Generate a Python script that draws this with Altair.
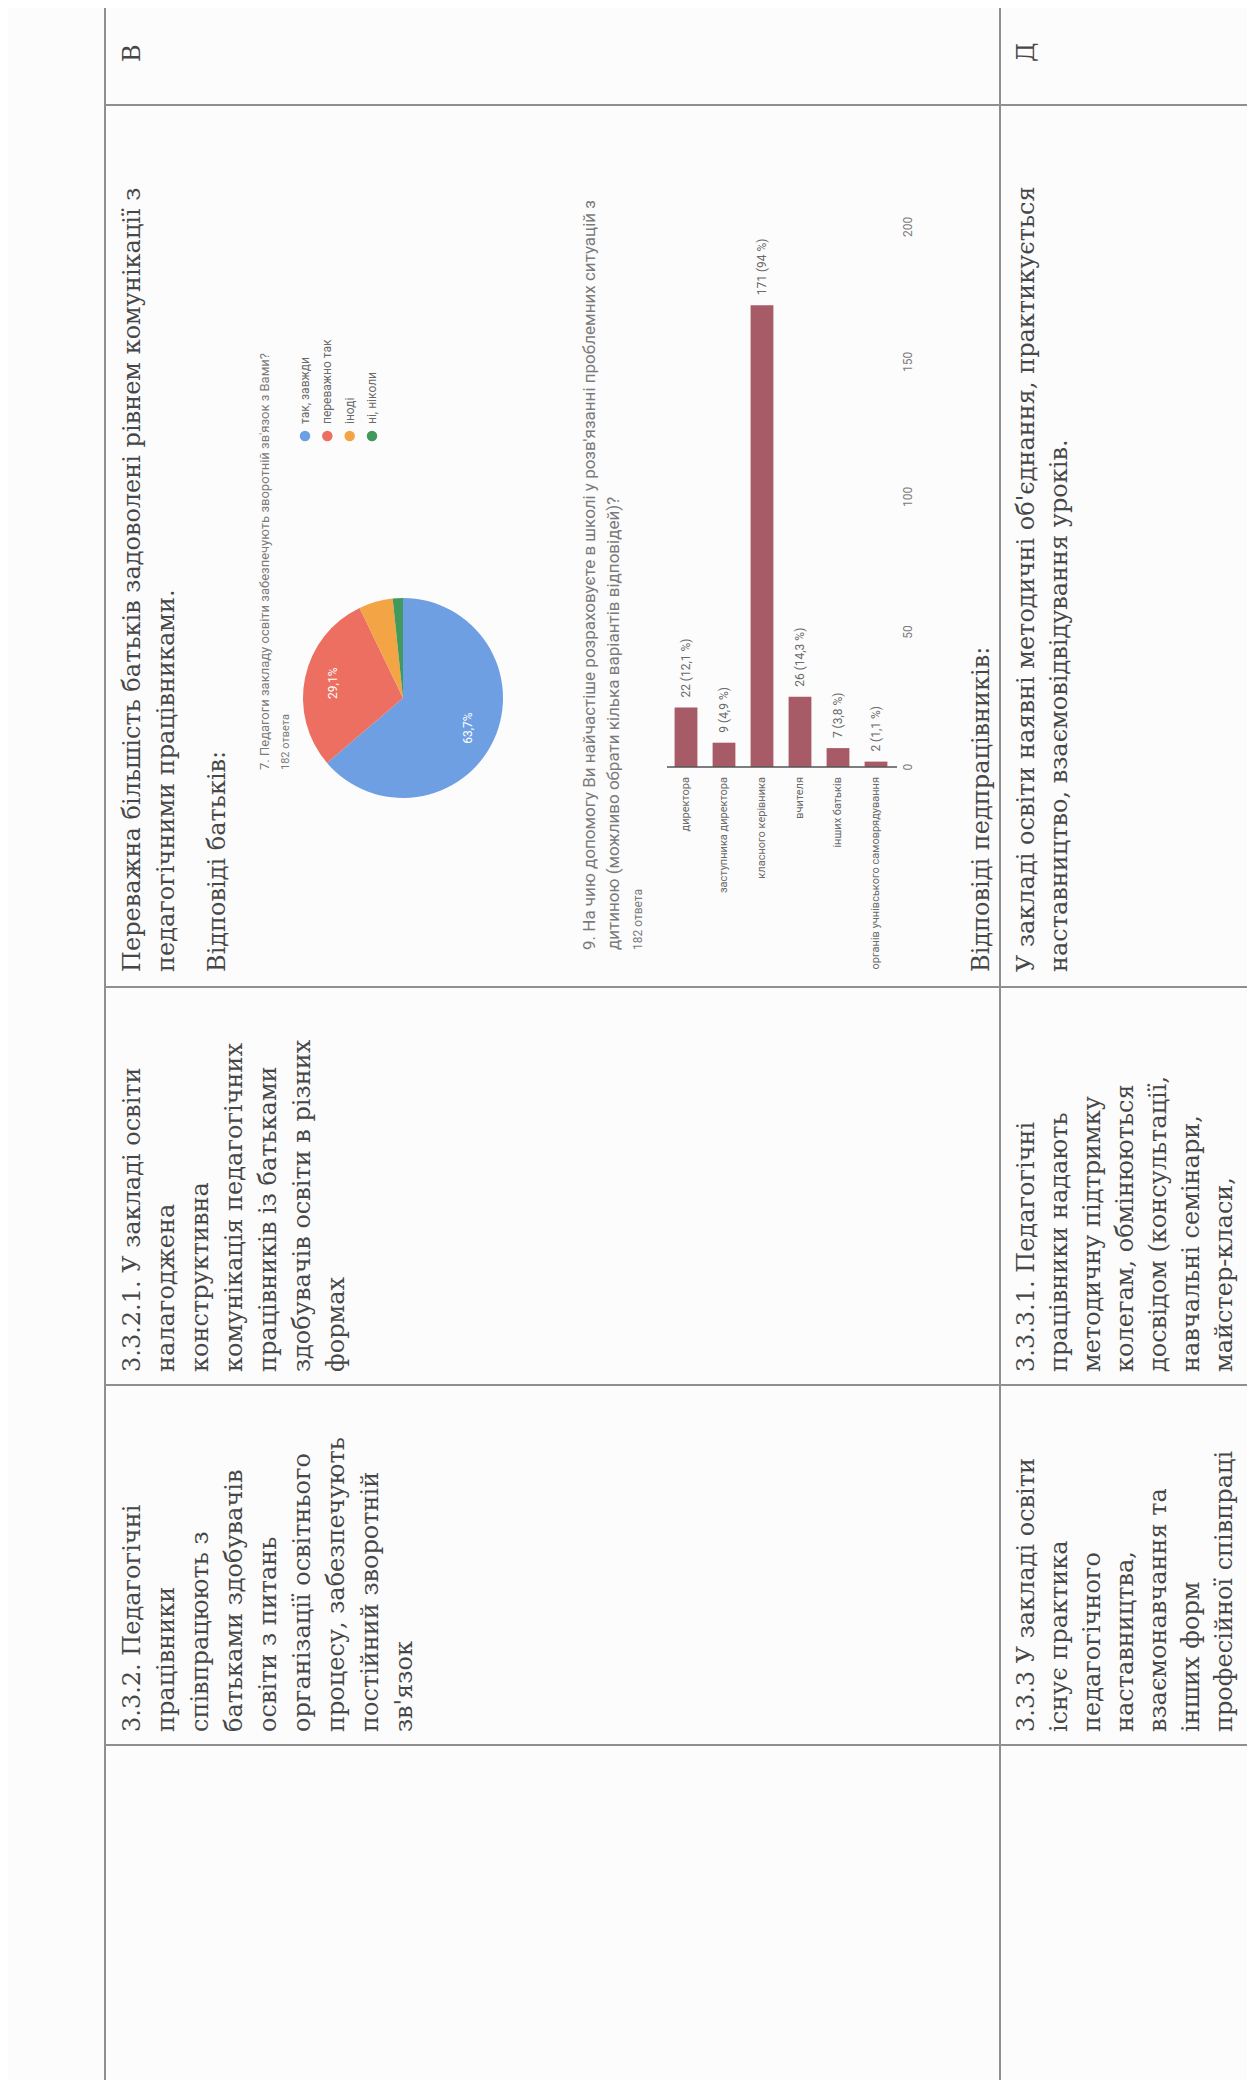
import altair as alt
import pandas as pd

# ---------------- values ----------------
bar_categories = ["директора", "заступника директора", "класного керівника",
                  "вчителя", "інших батьків", "органів учнівського самоврядування"]
bar_values = [22, 9, 171, 26, 7, 2]
bar_value_labels = ["22 (12,1 %)", "9 (4,9 %)", "171 (94 %)", "26 (14,3 %)",
                    "7 (3,8 %)", "2 (1,1 %)"]
bar_ticks = [0, 50, 100, 150, 200]
bar_title = ["9. На чию допомогу Ви найчастіше розраховуєте в школі у розв'язанні проблемних ситуацій з",
             "дитиною (можливо обрати кілька варіантів відповідей)?",
             "182 ответа"]

pie_categories = ["так, завжди", "переважно так", "іноді", "ні, ніколи"]
pie_values = [116, 53, 10, 3]
pie_value_labels = ["63,7%", "29,1%", "", ""]
pie_title = ["7. Педагоги закладу освіти забезпечують зворотній зв'язок з Вами?",
             "182 ответа"]

row1_level = ["В"]
row1_criterion = ["3.3.2. Педагогічні", "працівники", "співпрацюють з", "батьками здобувачів",
                  "освіти з питань", "організації освітнього", "процесу, забезпечують",
                  "постійний зворотній", "зв'язок"]
row1_indicator = ["3.3.2.1. У закладі освіти", "налагоджена", "конструктивна",
                  "комунікація педагогічних", "працівників із батьками",
                  "здобувачів освіти в різних", "формах"]
row1_description = ["Переважна більшість батьків задоволені рівнем комунікації з",
                    "педагогічними працівниками."]
row1_parents = ["Відповіді батьків:"]
row1_staff = ["Відповіді педпрацівників:"]

row2_level = ["Д"]
row2_criterion = ["3.3.3 У закладі освіти", "існує практика", "педагогічного",
                  "наставництва,", "взаємонавчання та", "інших форм", "професійної співпраці"]
row2_indicator = ["3.3.3.1. Педагогічні", "працівники надають", "методичну підтримку",
                  "колегам, обмінюються", "досвідом (консультації,", "навчальні семінари,",
                  "майстер-класи,"]
row2_description = ["У закладі освіти наявні методичні об'єднання, практикується",
                    "наставництво, взаємовідвідування уроків."]

# ---------------- colours / styles ----------------
pie_colors = ["#6f9fe3", "#ec6f61", "#f3a444", "#41995c"]
BAR_COLOR = "#a65b67"
DOC_COLOR = "#474747"
CHART_TXT = "#6a6a6a"
LINE_COLOR = "#8f8f8f"
SERIF = "DejaVu Serif"
SANS = "Roboto"

# ---------------- page layout (full-image pixel frame) ----------------
M = 8
W, H = 1255 - 2 * M, 2088 - 2 * M
PX = alt.Scale(domain=[M, 1255 - M], range=[0, W])
PY = alt.Scale(domain=[M, 2088 - M], range=[0, H])

ROW1_X0, ROW1_STEP = 133, 34
ROW2_X0, ROW2_STEP = 1027, 33
DESC_START, IND_START, CRIT_START = 972, 1372, 1732
LEVEL_START = 62

def block(lines, x0, step, ystart):
    return [{"x": x0 + i * step, "y": ystart, "t": s} for i, s in enumerate(lines)]

doc_rows = []
doc_rows += block(row1_level, ROW1_X0, ROW1_STEP, LEVEL_START)
doc_rows += block(row2_level, ROW2_X0, ROW2_STEP, LEVEL_START)
doc_rows += block(row1_criterion, ROW1_X0, ROW1_STEP, CRIT_START)
doc_rows += block(row1_indicator, ROW1_X0, ROW1_STEP, IND_START)
doc_rows += block(row1_description, ROW1_X0, ROW1_STEP, DESC_START)
doc_rows += block(row1_parents, 218, 0, DESC_START)
doc_rows += block(row1_staff, 982, 0, DESC_START)
doc_rows += block(row2_criterion, ROW2_X0, ROW2_STEP, CRIT_START)
doc_rows += block(row2_indicator, ROW2_X0, ROW2_STEP, IND_START)
doc_rows += block(row2_description, ROW2_X0, ROW2_STEP, DESC_START)
doc_df = pd.DataFrame(doc_rows)

doc_text = alt.Chart(doc_df).mark_text(
    angle=270, align="left", baseline="middle", font=SERIF, fontSize=24, color=DOC_COLOR
).encode(
    x=alt.X("x:Q", scale=PX, axis=None),
    y=alt.Y("y:Q", scale=PY, axis=None),
    text="t:N",
)

# table rules
rules = [
    (105, 0, 105, 2088),       # table top border
    (1000, 0, 1000, 2088),     # row separator
    (105, 105, 1255, 105),     # level | description
    (105, 987, 1255, 987),     # description | indicator
    (105, 1385, 1255, 1385),   # indicator | criterion
    (105, 1745, 1255, 1745),   # criterion | blank
]
rule_df = pd.DataFrame(rules, columns=["x", "y", "x2", "y2"])
table = alt.Chart(rule_df).mark_rule(color=LINE_COLOR, strokeWidth=2).encode(
    x=alt.X("x:Q", scale=PX, axis=None), x2="x2:Q",
    y=alt.Y("y:Q", scale=PY, axis=None), y2="y2:Q",
)

# chart titles (small sans text)
small_rows = []
small_rows += [{"x": 590 + i * 24, "y": 950, "t": s, "s": 17 if i < 2 else 12}
               for i, s in enumerate(bar_title)]
small_rows += [{"x": 265 + i * 21, "y": 770, "t": s, "s": 13 if i < 1 else 11}
               for i, s in enumerate(pie_title)]
small_df = pd.DataFrame(small_rows)
small_text = alt.Chart(small_df).mark_text(
    angle=270, align="left", baseline="middle", font=SANS, color="#7a7a7a"
).encode(
    x=alt.X("x:Q", scale=PX, axis=None),
    y=alt.Y("y:Q", scale=PY, axis=None),
    text="t:N",
    size=alt.Size("s:Q", scale=None, legend=None),
)

# ---------------- pie ----------------
pie_df = pd.DataFrame({"cat": pie_categories, "val": pie_values,
                       "lab": pie_value_labels, "ord": list(range(len(pie_categories)))})
PIE_CX, PIE_CY = 403 - M, 698 - M
pie_color = alt.Color("cat:N", scale=alt.Scale(domain=pie_categories, range=pie_colors), legend=None)
pie = alt.Chart(pie_df).mark_arc(radius=100).encode(
    theta=alt.Theta("val:Q", stack=True),
    color=pie_color,
    order=alt.Order("ord:Q"),
    x=alt.value(PIE_CX), y=alt.value(PIE_CY),
)
pie_lab = alt.Chart(pie_df).mark_text(
    radius=72, angle=270, color="white", fontSize=12, font=SANS
).encode(
    theta=alt.Theta("val:Q", stack=True),
    order=alt.Order("ord:Q"),
    text="lab:N",
    x=alt.value(PIE_CX), y=alt.value(PIE_CY),
)
LEG = alt.Scale(type="point", domain=pie_categories, range=[305 - M, 372 - M], padding=0)
leg_dots = alt.Chart(pie_df).mark_circle(size=110, opacity=1).encode(
    x=alt.X("cat:N", scale=LEG, axis=None),
    y=alt.value(436 - M),
    color=pie_color,
)
leg_text = alt.Chart(pie_df).mark_text(
    angle=270, align="left", baseline="middle", dx=12, fontSize=12, font=SANS, color=CHART_TXT
).encode(
    x=alt.X("cat:N", scale=LEG, axis=None),
    y=alt.value(436 - M),
    text="cat:N",
)

# ---------------- bar chart ----------------
bar_df = pd.DataFrame({"cat": bar_categories, "val": bar_values,
                       "lab": bar_value_labels, "base": [0] * len(bar_values)})
BX = alt.Scale(type="band", domain=bar_categories, range=[667 - M, 895 - M],
               paddingInner=0.4, paddingOuter=0.2)
BY = alt.Scale(domain=[0, 200], range=[767 - M, 227 - M], nice=False, zero=True)

bars = alt.Chart(bar_df).mark_bar(color=BAR_COLOR).encode(
    x=alt.X("cat:N", scale=BX, axis=None),
    y=alt.Y("val:Q", scale=BY, axis=None),
)
bar_lab = alt.Chart(bar_df).mark_text(
    angle=270, align="left", baseline="middle", dx=10, fontSize=12, font=SANS, color=CHART_TXT
).encode(
    x=alt.X("cat:N", scale=BX, axis=None),
    y=alt.Y("val:Q", scale=BY, axis=None),
    text="lab:N",
)
cat_lab = alt.Chart(bar_df).mark_text(
    angle=270, align="right", baseline="middle", dx=-10, fontSize=11, font=SANS, color=CHART_TXT
).encode(
    x=alt.X("cat:N", scale=BX, axis=None),
    y=alt.Y("base:Q", scale=BY, axis=None),
    text="cat:N",
)
baseline = alt.Chart(pd.DataFrame({"base": [0]})).mark_rule(color="#555555", strokeWidth=1.5).encode(
    y=alt.Y("base:Q", scale=BY, axis=None),
    x=alt.value(667 - M), x2=alt.value(897 - M),
)
tick_df = pd.DataFrame({"t": bar_ticks, "lab": [str(v) for v in bar_ticks]})
tick_lab = alt.Chart(tick_df).mark_text(
    angle=270, align="center", baseline="middle", fontSize=12, font=SANS, color="#7a7a7a"
).encode(
    y=alt.Y("t:Q", scale=BY, axis=None),
    x=alt.value(908 - M),
    text="lab:N",
)

chart = alt.layer(
    table, doc_text, small_text,
    pie, pie_lab, leg_dots, leg_text,
    bars, bar_lab, cat_lab, baseline, tick_lab,
).resolve_scale(
    x="independent", y="independent", color="independent", theta="independent", size="independent"
).properties(
    width=W, height=H, autosize=alt.AutoSizeParams(type="none"), padding=0, background="#fcfcfc"
).configure_view(stroke=None)

chart.save("out.html", embed_options={"renderer": "svg", "actions": False})
